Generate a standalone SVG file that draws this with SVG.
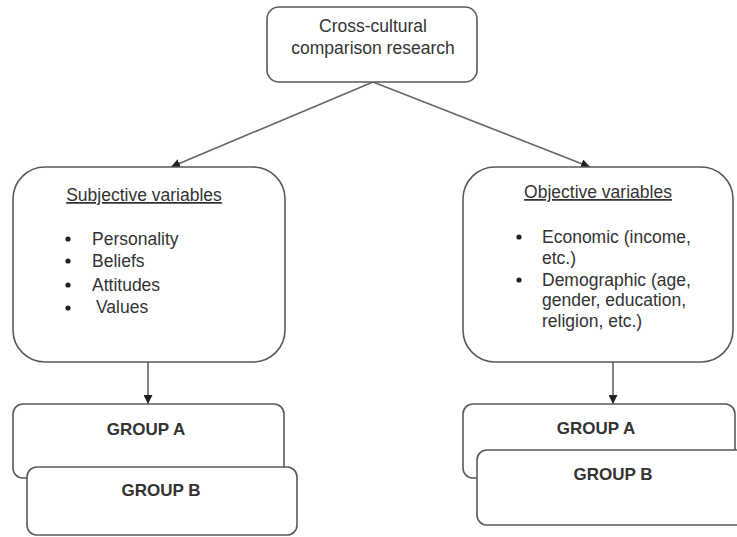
<svg xmlns="http://www.w3.org/2000/svg" width="737" height="537" viewBox="0 0 737 537">
<defs>
<marker id="ah" viewBox="0 0 10 10" refX="10" refY="5" markerWidth="9" markerHeight="9" markerUnits="userSpaceOnUse" orient="auto">
<path d="M0,0 L10,5 L0,10 Z" fill="#222"/>
</marker>
<style>
.box{fill:#fff;stroke:#5a5a5a;stroke-width:1.6}
.t{font-family:"Liberation Sans",Arial,sans-serif;font-size:17.5px;fill:#333}
.c{text-anchor:middle}
.b{font-weight:bold;font-size:17px;fill:#333}
.bul{fill:#222}
.con{stroke:#666;stroke-width:1.6;fill:none}
</style>
</defs>
<rect width="737" height="537" fill="#fff"/>
<g id="connectors">
<line class="con" x1="373" y1="82" x2="171" y2="167" marker-end="url(#ah)"/>
<line class="con" x1="373" y1="82" x2="590" y2="167" marker-end="url(#ah)"/>
<line class="con" x1="148" y1="362" x2="148" y2="404" marker-end="url(#ah)"/>
<line class="con" x1="613" y1="362" x2="613" y2="404" marker-end="url(#ah)"/>
</g>
<g id="root">
<rect class="box" x="267" y="7" width="210" height="75" rx="12"/>
<text class="t c" x="373" y="32">Cross-cultural</text>
<text class="t c" x="373" y="54">comparison research</text>
</g>
<g id="subjective">
<rect class="box" x="13" y="167" width="272" height="195" rx="32"/>
<text class="t c" x="144" y="201" text-decoration="underline">Subjective variables</text>
<circle class="bul" cx="68" cy="239" r="2.6"/>
<circle class="bul" cx="68" cy="261" r="2.6"/>
<circle class="bul" cx="68" cy="285" r="2.6"/>
<circle class="bul" cx="68" cy="308" r="2.6"/>
<text class="t" x="92" y="245">Personality</text>
<text class="t" x="92" y="267">Beliefs</text>
<text class="t" x="92" y="291">Attitudes</text>
<text class="t" x="96" y="313">Values</text>
</g>
<g id="objective">
<rect class="box" x="463" y="167" width="270" height="195" rx="32"/>
<text class="t c" x="598" y="198" text-decoration="underline">Objective variables</text>
<circle class="bul" cx="519" cy="237" r="2.6"/>
<circle class="bul" cx="519" cy="280" r="2.6"/>
<text class="t" x="542" y="243">Economic (income,</text>
<text class="t" x="542" y="264">etc.)</text>
<text class="t" x="542" y="286">Demographic (age,</text>
<text class="t" x="542" y="306">gender, education,</text>
<text class="t" x="542" y="327">religion, etc.)</text>
</g>
<g id="left-group-a">
<rect class="box" x="13" y="404" width="271" height="74" rx="10"/>
<text class="t b c" x="146" y="435">GROUP A</text>
</g>
<g id="left-group-b">
<rect class="box" x="27" y="467" width="270" height="68" rx="10"/>
<text class="t b c" x="161" y="496">GROUP B</text>
</g>
<g id="right-group-a">
<rect class="box" x="463" y="404" width="272" height="74" rx="10"/>
<text class="t b c" x="596" y="434">GROUP A</text>
</g>
<g id="right-group-b">
<rect class="box" x="477" y="450" width="272" height="75" rx="10"/>
<text class="t b c" x="613" y="480">GROUP B</text>
</g>
</svg>
